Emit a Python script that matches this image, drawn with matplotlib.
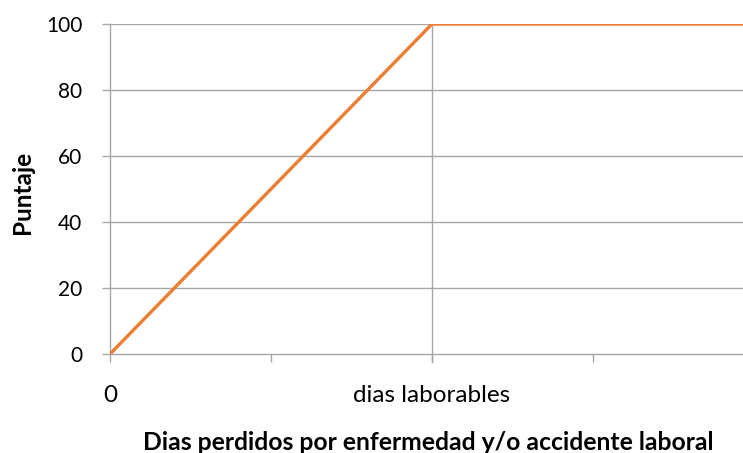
import matplotlib.pyplot as plt

# score rises linearly up to the number of working days, then stays at 100
dias = [0, 2, 4]
puntaje = [0, 100, 100]
xticks = [0, 1, 2, 3]
xtick_labels = ["0", "", "dias laborables", ""]
yticks = [0, 20, 40, 60, 80, 100]

plt.rcParams['font.family'] = ['Lato', 'DejaVu Sans']

W, H = 743, 453
fig = plt.figure(figsize=(W / 100, H / 100), dpi=100)
ax = fig.add_axes([110 / W, 1 - 354 / H, 633 / W, 330 / H])

grid_color = '#a6a6a6'
for y in yticks[1:]:
    ax.axhline(y, color=grid_color, lw=1.0, zorder=1)
ax.axvline(2, ymin=-0.025, ymax=1, color=grid_color, lw=1.0, zorder=1, clip_on=False)

ax.plot(dias, puntaje, color='#ED7D31', lw=2.4, zorder=3, solid_capstyle='butt')

ax.set_xlim(0, 633 / 161)
ax.set_ylim(0, 100)
ax.set_xticks(xticks)
ax.set_xticklabels(xtick_labels)
ax.set_yticks(yticks)

for side in ['top', 'right']:
    ax.spines[side].set_visible(False)
for side in ['left', 'bottom']:
    ax.spines[side].set_color(grid_color)
    ax.spines[side].set_linewidth(1.0)

ax.tick_params(axis='both', colors=grid_color, labelcolor='black', length=6, width=1.0)
ax.tick_params(axis='x', labelsize=17.5, pad=16)
ax.tick_params(axis='y', labelsize=15, pad=14)

fig.text(22 / W, 1 - 192 / H, "Puntaje", rotation=90, ha='center', va='center',
         fontsize=17.5, fontweight='bold')
fig.text(428 / W, 1 - 443 / H, "Dias perdidos por enfermedad y/o accidente laboral",
         ha='center', va='center', fontsize=17.8, fontweight='bold')

fig.savefig("out.png", dpi=100)
